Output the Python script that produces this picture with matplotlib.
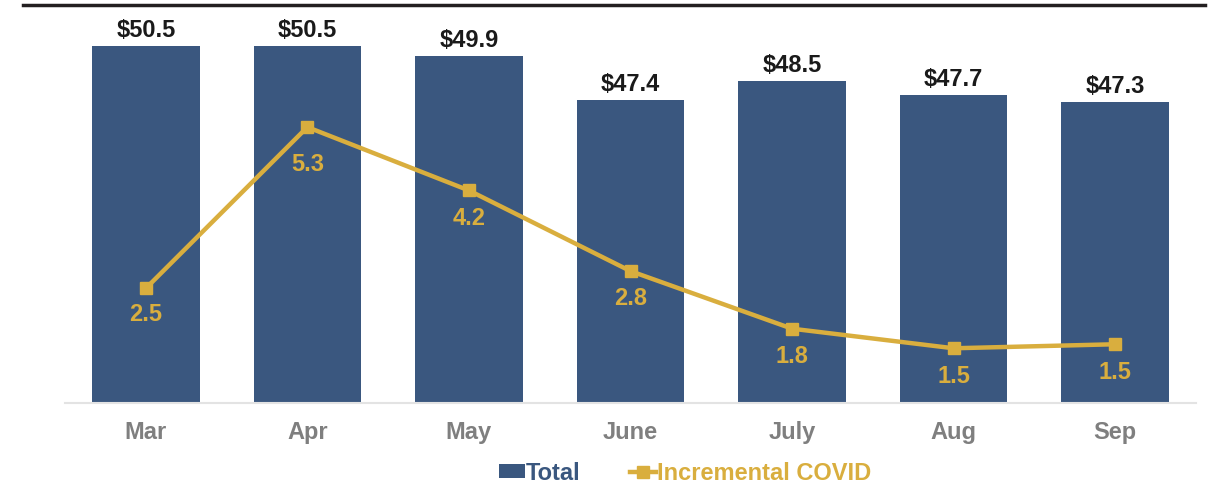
import matplotlib
matplotlib.use("Agg")
import matplotlib.pyplot as plt
from matplotlib.lines import Line2D
from matplotlib.patches import Patch

months = ["Mar", "Apr", "May", "June", "July", "Aug", "Sep"]
total = [50.5, 50.5, 49.9, 47.4, 48.5, 47.7, 47.3]
covid = [2.5, 5.3, 4.2, 2.8, 1.8, 1.46, 1.53]

BLUE = "#3A577F"
GOLD = "#D9AE3E"
GREY = "#7F7F7F"
FONT = "Liberation Sans"

plt.rcParams['font.family'] = [FONT, 'DejaVu Sans']

fig = plt.figure(figsize=(12.23, 4.84), dpi=100)
ax = fig.add_axes([65/1223, 81/484, 1131/1223, 398/484])
x = list(range(len(months)))
bars = ax.bar(x, total, width=0.665, color=BLUE, zorder=2)
ax.set_xlim(-0.5, len(months) - 0.5)
ax.set_ylim(30.1, 52.84)
for s in ["top", "right", "left"]:
    ax.spines[s].set_visible(False)
ax.spines["bottom"].set_color("#E3E3E3")
ax.spines["bottom"].set_linewidth(1.5)
ax.set_yticks([])
ax.set_xticks(x)
ax.set_xticklabels(months, fontsize=17, fontweight="bold", color=GREY)
ax.tick_params(axis="x", length=0, pad=13)
for xi, v in zip(x, total):
    ax.annotate(f"${v:.1f}", (xi, v), xytext=(0, 3), textcoords="offset points",
                ha="center", va="bottom", fontsize=17, fontweight="bold", color="#1A1A1A")

ax2 = ax.twinx()
ax2.set_ylim(0.51, 7.42)
ax2.axis("off")
ax2.plot(x, covid, color=GOLD, linewidth=3.2, marker="s", markersize=9, zorder=3)
label_offsets = [-19, -27, -20, -20, -20, -20, -20]
for xi, v, off in zip(x, covid, label_offsets):
    ax2.annotate(f"{v:.1f}", (xi, v), xytext=(0, off), textcoords="offset points",
                 ha="center", va="center", fontsize=17, fontweight="bold", color=GOLD)

fig.add_artist(Line2D([23/1223, 1205/1223], [1 - 5/484, 1 - 5/484], color="#231F20",
                      linewidth=2.5, transform=fig.transFigure))

handles = [Patch(facecolor=BLUE, edgecolor="none"),
           Line2D([0], [0], color=GOLD, linewidth=3.2, marker="s", markersize=9)]
leg = fig.legend(handles, ["Total", "Incremental COVID"], loc="center",
                 bbox_to_anchor=(685/1223, 11/484), ncol=2, frameon=False,
                 handlelength=1.1, handleheight=0.5, handletextpad=0.05, columnspacing=2.1,
                 borderpad=0, prop={"family": FONT, "size": 17, "weight": "bold"})
for t, c in zip(leg.get_texts(), [BLUE, GOLD]):
    t.set_color(c)

fig.savefig("out.png", dpi=100)
